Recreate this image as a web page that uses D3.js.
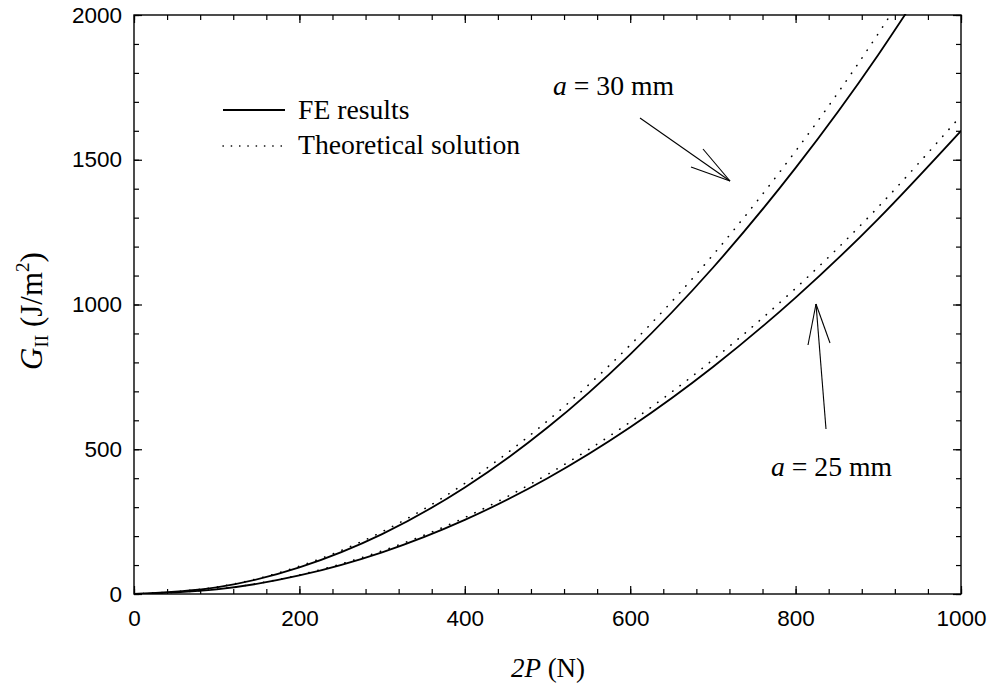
<!DOCTYPE html>
<html>
<head>
<meta charset="utf-8">
<script src="https://cdn.jsdelivr.net/npm/d3@7"></script>
<style>
  body { margin: 0; background: #fff; }
  svg { display: block; }
  .tick text { font-family: "Liberation Sans", Arial, sans-serif; font-size: 22.5px; fill: #000; }
  .serif { font-family: "Liberation Serif", "Times New Roman", serif; fill: #000; }
</style>
</head>
<body>
<svg id="chart" width="991" height="689"></svg>
<script>
// Applied load 2P (N) and energy release rate G_II (J/m^2)
const loads = [0, 100, 200, 300, 400, 500, 600, 700, 800, 900, 1000];
const fe30 = [0, 23, 92, 207, 368, 575, 828, 1127, 1472, 1863, 2300];
const theory30 = [0, 24, 96, 215, 382, 598, 860, 1171, 1530, 1936, 2390];
const fe25 = [0, 16, 64, 144, 256, 400, 576, 784, 1024, 1296, 1600];
const theory25 = [0, 16.5, 66, 149, 264, 413, 594, 809, 1056, 1337, 1652];
const xMajorTicks = [0, 200, 400, 600, 800, 1000];
const yMajorTicks = [0, 500, 1000, 1500, 2000];

const svg = d3.select("#chart");
const plotLeft = 134, plotRight = 961, plotTop = 15, plotBottom = 594;
const serifSize = 27.7;

const x = d3.scaleLinear().domain([0, 1000]).range([plotLeft, plotRight]);
const y = d3.scaleLinear().domain([0, 2000]).range([plotBottom, plotTop]);

const xMinor = d3.range(0, 1001, 40);
const yMinor = d3.range(0, 2001, 100);

function styleAxis(g) {
  g.select(".domain").remove();
  g.selectAll(".tick line").attr("stroke", "#000").attr("stroke-width", 1.2);
}

// bottom axis: labelled majors, inward ticks
svg.append("g").attr("transform", `translate(0,${plotBottom})`)
  .call(d3.axisBottom(x).tickValues(xMinor).tickSize(-5).tickFormat(() => ""))
  .call(styleAxis);
svg.append("g").attr("transform", `translate(0,${plotBottom})`)
  .call(d3.axisBottom(x).tickValues(xMajorTicks).tickSize(-8).tickPadding(16).tickFormat(d3.format("d")))
  .call(styleAxis);
// top axis
svg.append("g").attr("transform", `translate(0,${plotTop})`)
  .call(d3.axisTop(x).tickValues(xMinor).tickSize(-5).tickFormat(() => ""))
  .call(styleAxis);
svg.append("g").attr("transform", `translate(0,${plotTop})`)
  .call(d3.axisTop(x).tickValues(xMajorTicks).tickSize(-8).tickFormat(() => ""))
  .call(styleAxis);
// left axis
svg.append("g").attr("transform", `translate(${plotLeft},0)`)
  .call(d3.axisLeft(y).tickValues(yMinor).tickSize(-5).tickFormat(() => ""))
  .call(styleAxis);
svg.append("g").attr("transform", `translate(${plotLeft},0)`)
  .call(d3.axisLeft(y).tickValues(yMajorTicks).tickSize(-8).tickPadding(12).tickFormat(d3.format("d")))
  .call(styleAxis);
// right axis
svg.append("g").attr("transform", `translate(${plotRight},0)`)
  .call(d3.axisRight(y).tickValues(yMinor).tickSize(-5).tickFormat(() => ""))
  .call(styleAxis);
svg.append("g").attr("transform", `translate(${plotRight},0)`)
  .call(d3.axisRight(y).tickValues(yMajorTicks).tickSize(-8).tickFormat(() => ""))
  .call(styleAxis);

// frame
svg.append("rect")
  .attr("x", plotLeft).attr("y", plotTop)
  .attr("width", plotRight - plotLeft).attr("height", plotBottom - plotTop)
  .attr("fill", "none").attr("stroke", "#000").attr("stroke-width", 1.4);

// curves, clipped to the plot frame
svg.append("clipPath").attr("id", "plot-clip")
  .append("rect").attr("x", plotLeft).attr("y", plotTop - 1)
  .attr("width", plotRight - plotLeft).attr("height", plotBottom - plotTop + 1);

const line = d3.line()
  .x((d, i) => x(loads[i]))
  .y(d => y(d))
  .curve(d3.curveNatural);

const curves = svg.append("g").attr("clip-path", "url(#plot-clip)");
const series = [
  { values: theory30, dotted: true },
  { values: theory25, dotted: true },
  { values: fe30, dotted: false },
  { values: fe25, dotted: false }
];
series.forEach(s => {
  curves.append("path")
    .attr("d", line(s.values))
    .attr("fill", "none")
    .attr("stroke", "#000")
    .attr("stroke-width", s.dotted ? 1.6 : 1.8)
    .attr("stroke-linecap", s.dotted ? "round" : "butt")
    .attr("stroke-dasharray", s.dotted ? "0.3,9" : null);
});

// legend
const legend = svg.append("g");
legend.append("line")
  .attr("x1", 223).attr("x2", 285).attr("y1", 110).attr("y2", 110)
  .attr("stroke", "#000").attr("stroke-width", 1.8);
legend.append("text").attr("class", "serif")
  .attr("x", 298).attr("y", 119).attr("font-size", serifSize).text("FE results");
legend.append("line")
  .attr("x1", 223).attr("x2", 285).attr("y1", 146).attr("y2", 146)
  .attr("stroke", "#000").attr("stroke-width", 1.5)
  .attr("stroke-linecap", "round").attr("stroke-dasharray", "0.3,8");
legend.append("text").attr("class", "serif")
  .attr("x", 298).attr("y", 154).attr("font-size", serifSize).text("Theoretical solution");

// annotations with open-headed arrows
function annotate(label, tx, ty, from, tip, h1, h2) {
  const t = svg.append("text").attr("class", "serif")
    .attr("x", tx).attr("y", ty).attr("font-size", serifSize);
  t.append("tspan").attr("font-style", "italic").text("a");
  t.append("tspan").text(" = " + label);
  const g = svg.append("g").attr("stroke", "#000").attr("stroke-width", 1.1);
  g.append("line").attr("x1", from[0]).attr("y1", from[1]).attr("x2", tip[0]).attr("y2", tip[1]);
  g.append("line").attr("x1", h1[0]).attr("y1", h1[1]).attr("x2", tip[0]).attr("y2", tip[1]);
  g.append("line").attr("x1", h2[0]).attr("y1", h2[1]).attr("x2", tip[0]).attr("y2", tip[1]);
}
annotate("30 mm", 553, 95, [640, 118], [730, 181], [703, 149], [691, 167]);
annotate("25 mm", 771, 476, [826, 429], [816, 304], [808, 345], [830, 343]);

// axis titles
const xt = svg.append("text").attr("class", "serif")
  .attr("x", 548).attr("y", 677).attr("text-anchor", "middle").attr("font-size", 27);
xt.append("tspan").attr("font-style", "italic").text("2P");
xt.append("tspan").text(" (N)");

const yt = svg.append("text").attr("class", "serif")
  .attr("transform", "translate(42,311) rotate(-90)")
  .attr("text-anchor", "middle").attr("font-size", 31);
yt.append("tspan").attr("font-style", "italic").text("G");
yt.append("tspan").attr("font-size", 19).attr("dy", 6).text("II");
yt.append("tspan").attr("dy", -6).text(" (J/m");
yt.append("tspan").attr("font-size", 19).attr("dy", -13).text("2");
yt.append("tspan").attr("dy", 13).text(")");
</script>
</body>
</html>
